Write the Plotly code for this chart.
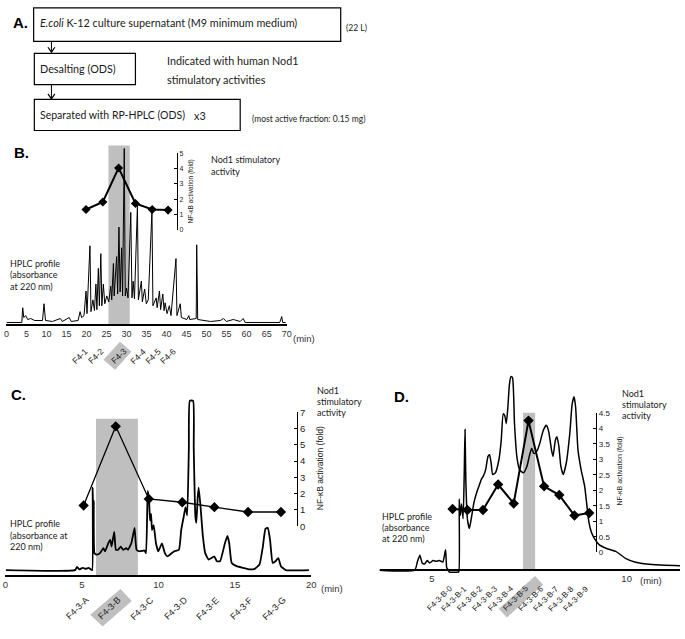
import plotly.graph_objects as go

W, H = 685, 639
TXT = "Lato, 'Open Sans', sans-serif"
ARIAL = "'Liberation Sans', Arial, sans-serif"
GREY = "rgb(191,191,191)"

# ---------------- panel B : first RP-HPLC run ----------------
b_time = [0, 3.83, 4.07, 4.32, 4.81, 5.31, 6.05, 7.04, 9.01, 9.38,
          9.75, 11.48, 13.46, 13.95, 15.68, 16.17, 17.90, 18.40, 18.77, 19.38,
          19.88, 20.12, 20.86, 21.11, 21.60, 21.98, 22.35, 22.59, 22.96, 23.21,
          23.58, 23.83, 24.20, 24.57, 25.06, 25.56, 26.05, 26.30, 26.72, 26.91,
          27.53, 27.78, 28.10, 28.40, 28.77, 29.01, 29.43, 29.68, 30.00, 30.37,
          31.06, 31.36, 31.65, 31.98, 32.72, 32.96, 33.70, 33.95, 34.52, 34.94,
          35.43, 36.35, 36.59, 37.41, 37.65, 38.22, 38.52, 39.06, 39.38, 39.63,
          40.12, 40.69, 41.11, 42.35, 42.59, 43.41, 43.70, 45.06, 45.56, 45.80,
          47.41, 47.53, 47.78, 50.99, 53.46, 54.20, 54.94, 56.67, 58.40, 59.14,
          59.63, 68.27, 68.77, 69.01, 69.75]
b_abs = [3, 3, 18, 8, 10, 6, 7, 5, 5, 22,
         5, 4, 7, 4, 8, 4, 5, 14, 8, 10,
         35, 12, 81, 14, 26, 15, 42, 16, 58, 20,
         73, 20, 42, 22, 30, 24, 40, 26, 63, 30,
         70, 32, 100, 34, 79, 30, 180, 30, 38, 28,
         115, 28, 45, 27, 122, 26, 45, 24, 37, 22,
         26, 117, 20, 28, 18, 35, 16, 32, 15, 23,
         12, 20, 10, 68, 10, 22, 8, 6, 10, 6,
         7, 82, 6, 4, 5, 7, 4, 6, 4, 7,
         3, 3, 9, 3, 3]
b_fractions = ["F4-1", "F4-2", "F4-3", "F4-4", "F4-5", "F4-6"]
b_frac_time = [19.88, 24.07, 28.02, 32.22, 36.42, 40.37]
b_activity = [1.33, 1.82, 4.05, 1.72, 1.33, 1.29]
b_xticks = [0, 5, 10, 15, 20, 25, 30, 35, 40, 45, 50, 55, 60, 65, 70]
b_yticks = [0, 1, 2, 3, 4, 5]

# ---------------- panel C : F4-3 re-chromatographed ----------------
c_time = [0.03, 4.55, 4.68, 4.83, 5.04, 5.26, 5.43, 5.58, 5.67, 5.70,
          5.73, 5.77, 5.82, 5.97, 6.18, 6.40, 6.51, 6.72, 6.85, 6.94,
          7.11, 7.22, 7.37, 7.54, 7.69, 7.90, 8.01, 8.23, 8.44, 8.57,
          8.76, 9.09, 9.19, 9.30, 9.39, 9.45, 9.52, 9.58, 9.69, 9.84,
          9.99, 10.23, 10.42, 10.59, 11.02, 11.34, 11.49, 11.67, 11.77, 11.88,
          11.99, 12.05, 12.27, 12.31, 12.42, 12.48, 12.57, 12.63, 12.74, 12.91,
          13.06, 13.28, 13.65, 13.82, 14.03, 14.35, 14.51, 14.63, 14.79, 15.11,
          15.54, 15.97, 16.29, 16.61, 16.83, 17.00, 17.15, 17.30, 17.47, 17.65,
          17.84, 18.01, 18.33, 19.84]
c_abs = [6, 6, 9.3, 6.7, 8.3, 7.3, 8.3, 6.7, 6, 90,
         66.7, 76.7, 23.3, 21.7, 23.3, 28.3, 25, 33.3, 36.7, 30,
         45, 26.7, 26.7, 30, 26.7, 28.3, 26.7, 33.3, 49, 26.7,
         25, 26, 23.3, 86.7, 76.7, 56.7, 63.3, 46.7, 51.7, 33.3,
         25, 33.3, 23.3, 20, 25, 26.7, 46.7, 61.7, 70, 61.7,
         130, 178.3, 178.3, 130, 60, 54, 80, 90, 73.3, 40,
         23.3, 16.7, 20, 15, 15, 33.3, 40.7, 33.3, 13.3, 10,
         8.3, 6.7, 7.3, 11.7, 30, 48.3, 49, 36.7, 13.3, 15,
         18.3, 10, 6, 6]
c_fractions = ["F4-3-A", "F4-3-B", "F4-3-C", "F4-3-D", "F4-3-E", "F4-3-F", "F4-3-G"]
c_frac_time = [5.11, 7.21, 9.37, 11.56, 13.66, 15.86, 18.01]
c_activity = [1.27, 6.13, 1.67, 1.47, 1.17, 0.87, 0.87]
c_xticks = [0, 5, 10, 15, 20]
c_yticks = [0, 1, 2, 3, 4, 5, 6, 7]

# ---------------- panel D : F4-3-B re-chromatographed ----------------
d_time = [3.63, 4.56, 4.63, 4.69, 4.75, 4.81, 4.88, 4.94, 5.03, 5.11,
          5.19, 5.28, 5.35, 5.38, 5.42, 5.45, 5.66, 5.69, 5.70, 5.73,
          5.76, 5.80, 5.83, 5.85, 5.87, 5.91, 5.96, 6.01, 6.08, 6.15,
          6.21, 6.27, 6.32, 6.38, 6.44, 6.48, 6.52, 6.56, 6.63, 6.72,
          6.78, 6.83, 6.87, 6.91, 6.95, 6.99, 7.03, 7.07, 7.12, 7.18,
          7.25, 7.35, 7.44, 7.50, 7.56, 7.61, 7.65, 7.71, 7.77, 7.86,
          7.94, 8.00, 8.07, 8.11, 8.17, 8.21, 8.26, 8.31, 8.37, 8.45,
          8.54, 8.60, 8.65, 8.69, 8.75, 8.83, 8.92, 8.98, 9.03, 9.09,
          9.17, 9.30, 9.47, 9.72, 9.97, 10.23, 10.65, 11.37]
d_abs = [0, 0, 9, 15, 7.3, 6.3, 9.7, 7.3, 9.7, 9,
         9.7, 8.3, 20.7, 2.3, 0, -2, -2, -2, 72.3, 55.7,
         67.3, 52.3, 99, 143, 92.3, 52.3, 42.3, 52.3, 69, 79,
         85.7, 92.3, 95.7, 102.3, 115.7, 117.3, 109, 97.3, 99, 112.3,
         132.3, 159, 157.3, 149, 165.7, 189, 197, 195.7, 149, 115.7,
         102.3, 99, 105.7, 115.7, 124, 119, 119, 122.3, 129, 142.3,
         147.3, 140.7, 122.3, 115.7, 132.3, 135.7, 125.7, 105.7, 97.3, 109,
         139, 169, 176.3, 165.7, 122.3, 102.3, 85.7, 65.7, 49, 39,
         32.3, 25.7, 22.3, 19, 12, 8, 5.7, 4.5]
d_fractions = ["F4-3-B-0", "F4-3-B-1", "F4-3-B-2", "F4-3-B-3", "F4-3-B-4",
               "F4-3-B-5", "F4-3-B-6", "F4-3-B-7", "F4-3-B-8", "F4-3-B-9"]
d_frac_time = [5.53, 5.91, 6.31, 6.70, 7.10, 7.48, 7.88, 8.27, 8.66, 9.04]
d_activity = [1.40, 1.37, 1.37, 2.19, 1.58, 4.25, 2.13, 1.85, 1.19, 1.27]
d_xticks = [5, 10]
d_yticks = [0, 0.5, 1, 1.5, 2, 2.5, 3, 3.5, 4, 4.5]


def fx(p):
    return p / W


def fy(p):
    return 1 - p / H


fig = go.Figure()

fig.add_trace(go.Scatter(x=b_time, y=b_abs, xaxis="x", yaxis="y", mode="lines",
                         line=dict(color="black", width=1)))
fig.add_trace(go.Scatter(x=b_frac_time, y=b_activity, xaxis="x", yaxis="y2", mode="lines+markers",
                         line=dict(color="black", width=2),
                         marker=dict(symbol="diamond", size=7, color="black")))
fig.add_trace(go.Scatter(x=c_time, y=c_abs, xaxis="x2", yaxis="y3", mode="lines",
                         line=dict(color="black", width=1.8, shape="spline", smoothing=0.4)))
fig.add_trace(go.Scatter(x=c_frac_time, y=c_activity, xaxis="x2", yaxis="y4", mode="lines+markers",
                         line=dict(color="black", width=1.3),
                         marker=dict(symbol="diamond", size=8, color="black")))
fig.add_trace(go.Scatter(x=d_time, y=d_abs, xaxis="x3", yaxis="y5", mode="lines",
                         line=dict(color="black", width=1.5, shape="spline", smoothing=0.5)))
fig.add_trace(go.Scatter(x=d_frac_time, y=d_activity, xaxis="x3", yaxis="y6", mode="lines+markers",
                         line=dict(color="black", width=2),
                         marker=dict(symbol="diamond", size=8, color="black")))


def time_axis(dom, rng, pos, ticks, size, lw):
    return dict(domain=dom, range=rng, anchor="free", position=pos, showline=True,
                linecolor="black", linewidth=lw, showgrid=False, zeroline=False,
                tickmode="array", tickvals=ticks, ticks="", ticklen=0,
                tickfont=dict(family=ARIAL, size=size, color="#333"))


def hidden_axis(dom, rng):
    return dict(domain=dom, range=rng, visible=False, anchor="free", position=0)


def act_axis(dom, rng, pos, ticks, size):
    return dict(domain=dom, range=rng, anchor="free", position=pos, side="right",
                showline=True, linecolor="black", linewidth=1.3, showgrid=False,
                zeroline=False, tickmode="array", tickvals=ticks, ticks="inside",
                ticklen=3, tickwidth=1, tickcolor="black",
                tickfont=dict(family=ARIAL, size=size, color="#222"))


fig.update_layout(
    width=W, height=H, margin=dict(l=0, r=0, t=0, b=0),
    paper_bgcolor="white", plot_bgcolor="rgba(0,0,0,0)", showlegend=False,
    xaxis=time_axis([fx(3.5), fx(287)], [0, 70], fy(325), b_xticks, 9, 2),
    yaxis=hidden_axis([fy(325), fy(140)], [0, 185]),
    yaxis2=act_axis([fy(227.7), fy(150)], [0, 5], fx(176), b_yticks, 7),
    xaxis2=time_axis([fx(2.5), fx(312)], [0, 20], fy(580), c_xticks, 9.5, 2),
    yaxis3=hidden_axis([fy(580), fy(400)], [0, 180]),
    yaxis4=act_axis([fy(529.3), fy(413.3)], [0, 7], fx(297.3), c_yticks, 9.5),
    xaxis3=time_axis([fx(381), 1.0], [3.655, 11.37], fy(574), d_xticks, 9.5, 1.5),
    yaxis5=hidden_axis([fy(580), fy(375)], [-6, 199]),
    yaxis6=act_axis([fy(556), fy(414)], [0, 4.5], fx(600), d_yticks, 8),
)

shapes = []
# active-fraction shading
shapes.append(dict(type="rect", xref="x", yref="paper", x0=25.48, x1=30.8, y0=fy(325), y1=fy(142),
                   fillcolor=GREY, line=dict(width=0), layer="below"))
shapes.append(dict(type="rect", xref="x2", yref="paper", x0=5.92, x1=8.66, y0=fy(580), y1=fy(420),
                   fillcolor=GREY, line=dict(width=0), layer="below"))
shapes.append(dict(type="rect", xref="x3", yref="paper", x0=7.34, x1=7.65, y0=fy(574), y1=fy(414),
                   fillcolor=GREY, line=dict(width=0), layer="below"))


def poly(pts):
    return "M " + " L ".join(f"{fx(a):.5f},{fy(b):.5f}" for a, b in pts) + " Z"


# grey tags behind the most active fraction labels
for pts in ([(101.7, 360), (118.3, 341.7), (130, 351.7), (113.4, 370)],
            [(88.3, 619.5), (118.8, 593.3), (130.3, 605.3), (100.8, 631.3)],
            [(501.7, 613.3), (538.3, 580), (546.5, 588.8), (509.9, 622.1)]):
    shapes.append(dict(type="path", xref="paper", yref="paper", path=poly(pts),
                       fillcolor=GREY, line=dict(width=0), layer="below"))

# panel A boxes and arrows
for x0, y0, x1, y1 in [(31, 2, 341.7, 36), (31.7, 48.3, 134, 80), (31.7, 95, 240, 126.7)]:
    shapes.append(dict(type="rect", xref="paper", yref="paper", x0=fx(x0), x1=fx(x1),
                       y0=fy(y1), y1=fy(y0), line=dict(color="black", width=1.2)))
for ya, yb in [(36, 47), (80, 94.5)]:
    shapes.append(dict(type="path", xref="paper", yref="paper",
                       path=f"M {fx(49)},{fy(ya)} L {fx(49)},{fy(yb)}",
                       line=dict(color="black", width=1)))
    shapes.append(dict(type="path", xref="paper", yref="paper",
                       path=f"M {fx(45.5)},{fy(yb - 5)} L {fx(49)},{fy(yb)} L {fx(52.5)},{fy(yb - 5)}",
                       line=dict(color="black", width=1.2)))

ann = []


def txt(x, y, s, size, family=TXT, anchor="left", color="#1a1a1a", **kw):
    ann.append(dict(x=fx(x), y=fy(y), xref="paper", yref="paper", text=s, showarrow=False,
                    xanchor=anchor, yanchor="middle", font=dict(family=family, size=size, color=color), **kw))


# panel letters
for lab, x, y in [("A.", 8, 17), ("B.", 9, 149), ("C.", 6, 395), ("D.", 394, 397)]:
    txt(x, y, f"<b>{lab}</b>", 15, family=ARIAL, color="black")

# panel A texts
txt(35, 17, "<i>E.coli</i> K-12 culture supernatant (M9 minimum medium)", 10.8)
txt(345, 22, "(22 L)", 8.5)
txt(35, 63.5, "Desalting (ODS)", 10.8)
txt(164, 55, "Indicated with human Nod1", 10.8)
txt(164, 74.5, "stimulatory activities", 10.8)
txt(35, 111, "Separated with RP-HPLC (ODS)", 10.5)
txt(191, 111, "x3", 10.8)
txt(250, 115, "(most active fraction: 0.15 mg)", 8.5)

# legend-like texts
for x, y0, lines in [(208, 156, ["Nod1 stimulatory", "activity"]),
                     (5, 262, ["HPLC profile", "(absorbance", "at 220 nm)"]),
                     (316, 391, ["Nod1", "stimulatory", "activity"]),
                     (5, 527, ["HPLC profile", "(absorbance at", "220 nm)"]),
                     (624, 394, ["Nod1", "stimulatory", "activity"]),
                     (381, 519, ["HPLC profile", "(absorbance", "at 220 nm)"])]:
    step = 11.5 if len(lines) == 3 else 12
    for i, s in enumerate(lines):
        txt(x, y0 + i * step, s, 9)

# "(min)" units
txt(291, 338, "(min)", 9.5, family=ARIAL, color="#333")
txt(320, 593, "(min)", 9.5, family=ARIAL, color="#333")
txt(643, 585, "(min)", 9.5, family=ARIAL, color="#333")

# right axis titles
for x, y, size in [(190, 189, 6.5), (321, 470, 8.5), (624, 473, 7)]:
    txt(x, y, "NF-κB activation (fold)", size, family=ARIAL, anchor="center", color="#222", textangle=-90)

# fraction labels under the time axes
for names, times, xref, py, shifts, size in [
        (b_fractions, b_frac_time, "x", 356, [-6, -7, 0, 3, 1, 0], 8.5),
        (c_fractions, c_frac_time, "x2", 613, [-6] * 7, 9),
        (d_fractions, d_frac_time, "x3", 603, [-13] * 10, 8)]:
    for n, t, s in zip(names, times, shifts):
        ann.append(dict(x=t, y=fy(py), xref=xref, yref="paper", text=n, showarrow=False,
                        xanchor="center", yanchor="middle", xshift=s, textangle=-45,
                        font=dict(family=ARIAL, size=size, color="#222")))

fig.update_layout(shapes=shapes, annotations=ann)
# the page body keeps its default 8px margin otherwise, which pushes the figure off the window
fig.write_html("out.html", config={"displayModeBar": False},
               post_script="document.body.style.margin = '0';")
